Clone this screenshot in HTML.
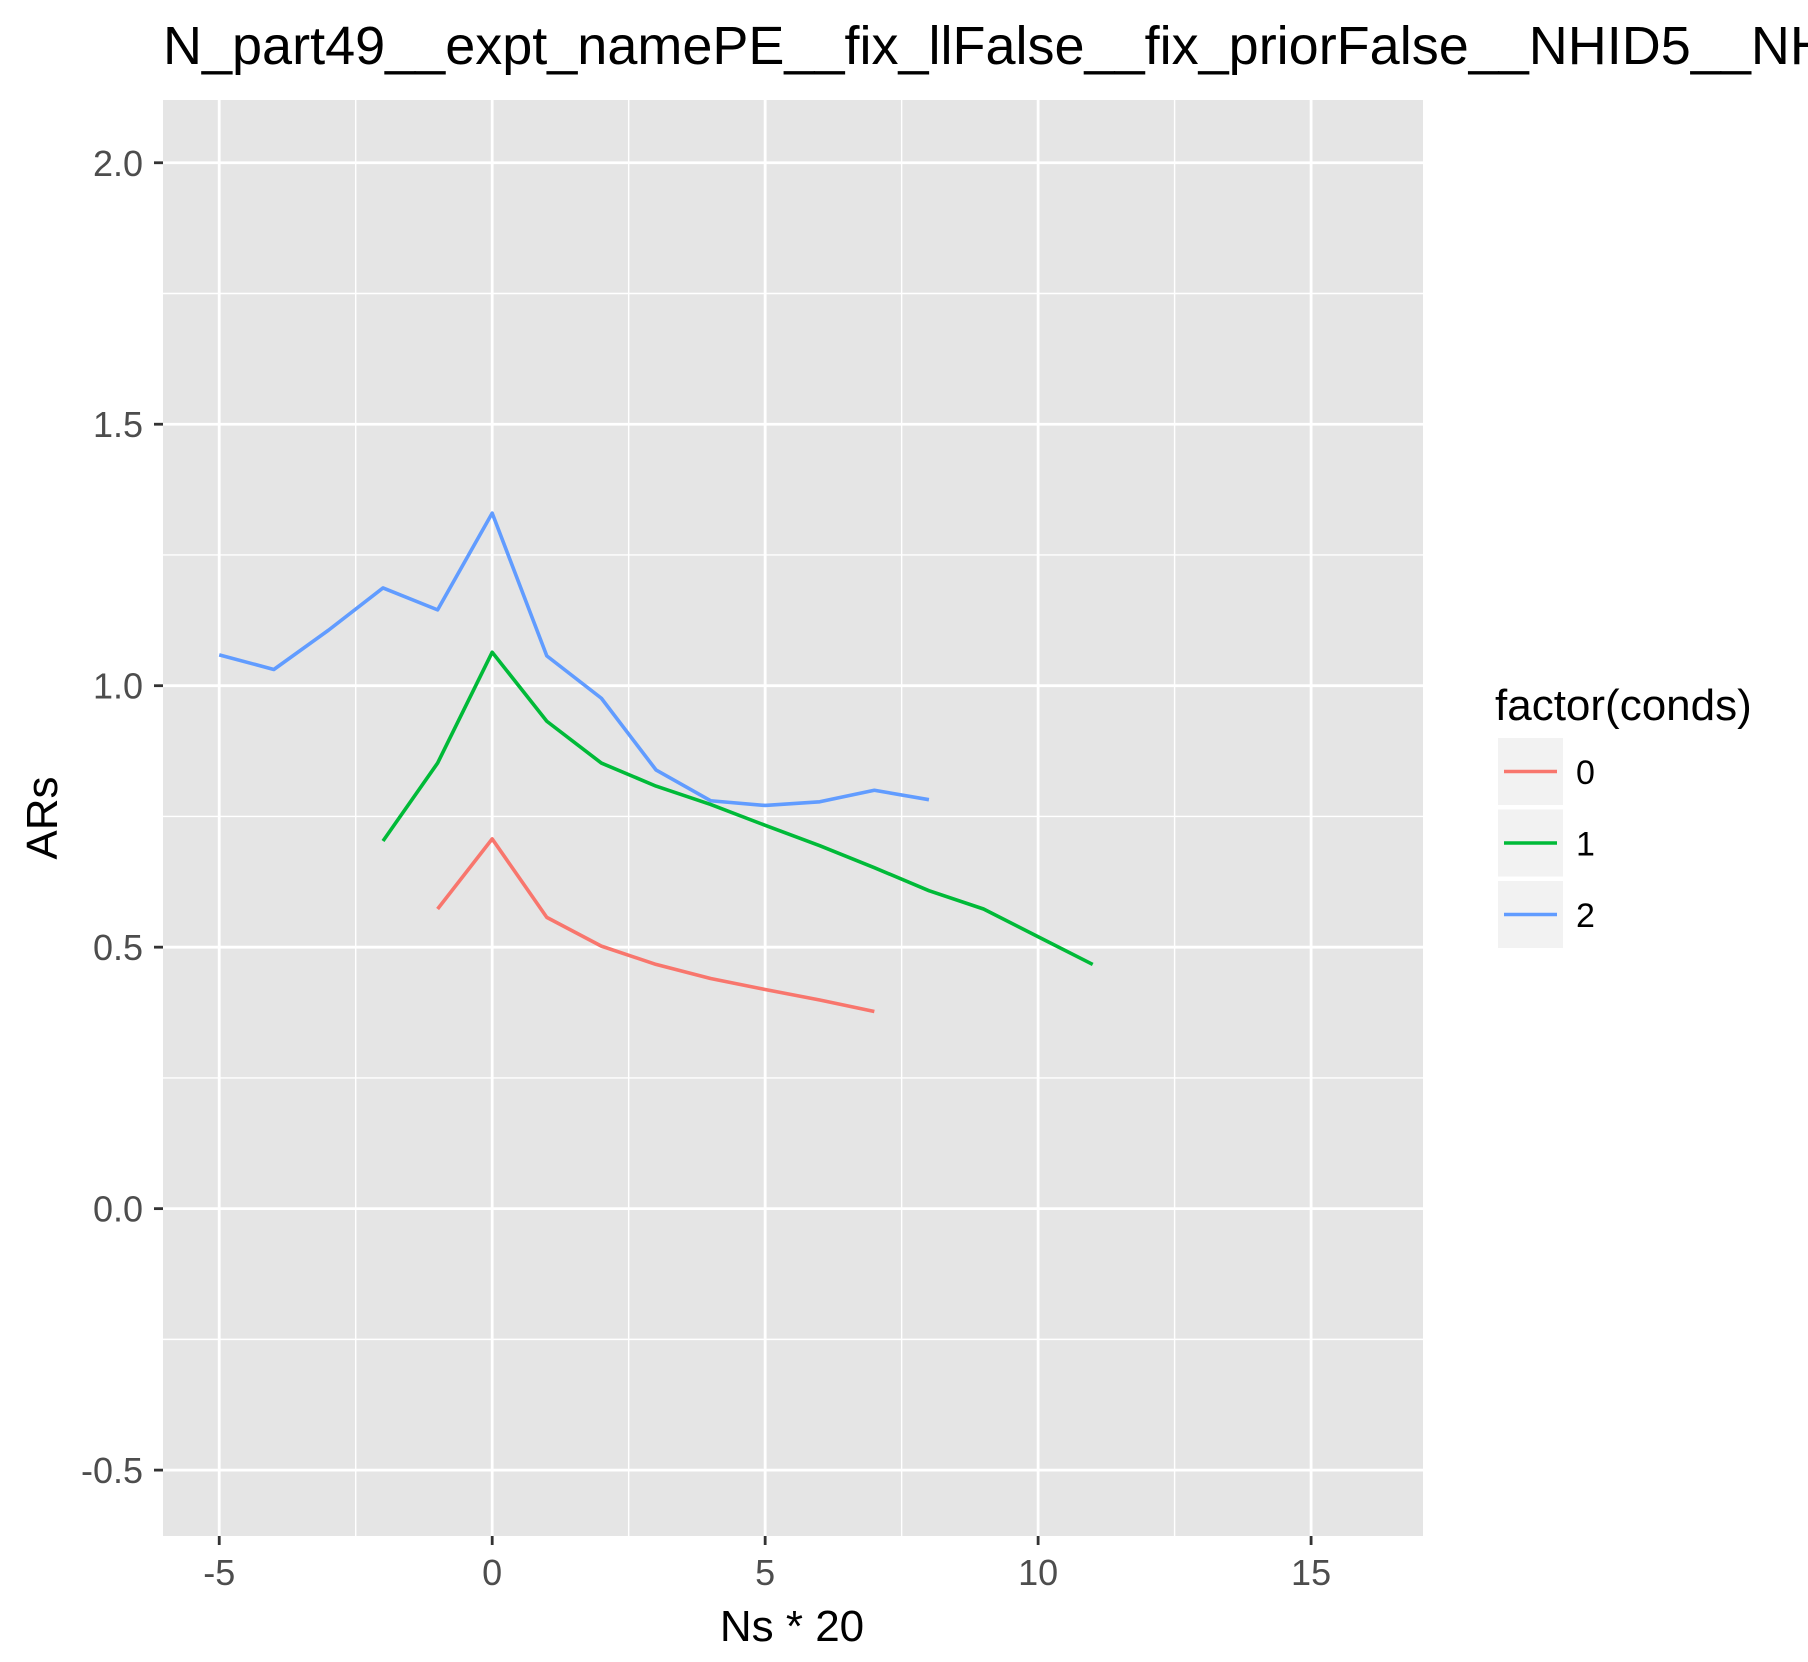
<!DOCTYPE html>
<html><head><meta charset="utf-8"><style>
html,body{margin:0;padding:0;background:#fff;width:1808px;height:1662px;overflow:hidden}
svg text{font-family:"Liberation Sans",Arial,sans-serif}
</style></head><body>
<svg id="chart" width="1808" height="1662" xmlns="http://www.w3.org/2000/svg">
<text x="163" y="64" font-size="54" fill="#000">N_part49__expt_namePE__fix_llFalse__fix_priorFalse__NHID5__NHID5__NHID5__NHID5</text>
<rect x="163" y="100" width="1260" height="1436" fill="#e5e5e5"/>
<g id="grid"></g><g id="series"></g><g id="axes"></g>
<text x="792" y="1641" font-size="44" text-anchor="middle" fill="#000">Ns * 20</text>
<text transform="translate(57,818) rotate(-90)" font-size="44" text-anchor="middle" fill="#000">ARs</text>
<g>
<text x="1495" y="720" font-size="44" fill="#000">factor(conds)</text>
<g id="legend"></g>
</g>
</svg>
<script>
const seriesNames = ["0","1","2"];
const colors = ["#f8766d","#00ba38","#619cff"];
const x0 = [-1,0,1,2,3,4,5,6,7];
const y0 = [0.573,0.707,0.557,0.502,0.467,0.44,0.419,0.399,0.377];
const x1 = [-2,-1,0,1,2,3,4,5,6,7,8,9,10,11];
const y1 = [0.703,0.852,1.064,0.932,0.852,0.808,0.773,0.733,0.694,0.652,0.608,0.573,0.52,0.467];
const x2 = [-5,-4,-3,-2,-1,0,1,2,3,4,5,6,7,8];
const y2 = [1.059,1.031,1.106,1.187,1.145,1.330,1.057,0.976,0.839,0.780,0.771,0.778,0.800,0.782];
const xTicks = [-5,0,5,10,15];
const xTickLabels = ["-5","0","5","10","15"];
const yTicks = [-0.5,0,0.5,1,1.5,2];
const yTickLabels = ["-0.5","0.0","0.5","1.0","1.5","2.0"];

const NS="http://www.w3.org/2000/svg";
const L=163,R=1423,T=100,B=1536;
const xMin=-6.03,xMax=17.05,yMin=-0.626,yMax=2.12;
const sx=v=>L+(v-xMin)/(xMax-xMin)*(R-L);
const sy=v=>B-(v-yMin)/(yMax-yMin)*(B-T);
function mk(tag,attrs,parent){const e=document.createElementNS(NS,tag);for(const k in attrs)e.setAttribute(k,attrs[k]);parent.appendChild(e);return e;}
const grid=document.getElementById('grid'),axes=document.getElementById('axes'),ser=document.getElementById('series'),leg=document.getElementById('legend');
for(let i=0;i<xTicks.length-1;i++){const m=(xTicks[i]+xTicks[i+1])/2;const e=mk('line',{x1:sx(m),x2:sx(m),y1:T,y2:B,stroke:'#fff','stroke-width':1.4},grid);

}
for(let i=0;i<yTicks.length-1;i++){const m=(yTicks[i]+yTicks[i+1])/2;const e=mk('line',{x1:L,x2:R,y1:sy(m),y2:sy(m),stroke:'#fff','stroke-width':1.4},grid);

}
xTicks.forEach((t,i)=>{const e=mk('line',{x1:sx(t),x2:sx(t),y1:T,y2:B,stroke:'#fff','stroke-width':2.8},grid);


const tk=mk('line',{x1:sx(t),x2:sx(t),y1:B,y2:B+9,stroke:'#333','stroke-width':2.8},axes);


const tx=mk('text',{x:sx(t),y:B+49,'font-size':36,'text-anchor':'middle',fill:'#4d4d4d'},axes);tx.textContent=xTickLabels[i];

});
yTicks.forEach((t,i)=>{const e=mk('line',{x1:L,x2:R,y1:sy(t),y2:sy(t),stroke:'#fff','stroke-width':2.8},grid);


const tk=mk('line',{x1:L-9,x2:L,y1:sy(t),y2:sy(t),stroke:'#333','stroke-width':2.8},axes);


const tx=mk('text',{x:L-20,y:sy(t)+13,'font-size':36,'text-anchor':'end',fill:'#4d4d4d'},axes);tx.textContent=yTickLabels[i];

});
const xs=[x0,x1,x2],ys=[y0,y1,y2];
xs.forEach((xa,s)=>{const pts=xa.map((x,i)=>sx(x)+','+sy(ys[s][i])).join(' ');
const p=mk('polyline',{points:pts,fill:'none',stroke:colors[s],'stroke-width':3.6,'stroke-linejoin':'round'},ser);

});
seriesNames.forEach((n,i)=>{const y=738+i*71.5;
const g=mk('g',{},leg);


mk('rect',{x:1498,y:y,width:65,height:67,fill:'#f2f2f2'},g);
mk('line',{x1:1504,x2:1557,y1:y+33.5,y2:y+33.5,stroke:colors[i],'stroke-width':3.6},g);
const t=mk('text',{x:1576,y:y+46,'font-size':34,fill:'#000'},g);t.textContent=n;});
</script>
</body></html>
